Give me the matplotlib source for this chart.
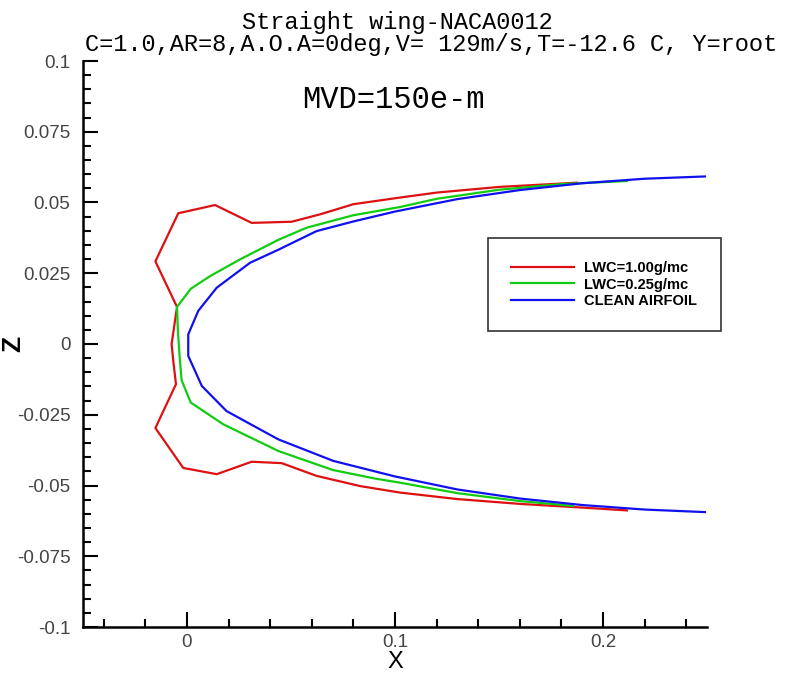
# 着氷形状の比較 (NACA0012 直線翼)
import matplotlib.pyplot as plt
from matplotlib.ticker import MultipleLocator, FuncFormatter

plt.rcParams['font.family'] = ['Liberation Sans', 'DejaVu Sans']
plt.rcParams['axes.unicode_minus'] = False

# LWC=1.00g/mc (赤)
x_lwc100 = [0.1875, 0.15, 0.12, 0.10, 0.08, 0.0639, 0.0503, 0.0311, 0.0135, -0.0042,
            -0.0152, -0.0048, -0.0062, -0.0074, -0.0066, -0.0053, -0.0152, -0.0018,
            0.0143, 0.0311, 0.0455, 0.0623, 0.0832, 0.1024, 0.13, 0.16, 0.19, 0.2115]
z_lwc100 = [0.0570, 0.0555, 0.0535, 0.0515, 0.0494, 0.0458, 0.0432, 0.0428, 0.0491, 0.0462,
            0.0292, 0.0131, 0.0060, 0.0000, -0.0060, -0.0142, -0.0297, -0.0438,
            -0.0460, -0.0416, -0.0421, -0.0466, -0.0502, -0.0525, -0.0548, -0.0565, -0.0578, -0.0588]

# LWC=0.25g/mc (緑)
x_lwc025 = [0.2115, 0.18, 0.15, 0.12, 0.1024, 0.08, 0.0575, 0.0439, 0.0255, 0.0111,
            0.0018, -0.0048, -0.0044, -0.0036, -0.0026, 0.0018, 0.0175, 0.0439,
            0.07, 0.09, 0.1024, 0.13, 0.16, 0.1856]
z_lwc025 = [0.0576, 0.0565, 0.0545, 0.0513, 0.0484, 0.0455, 0.0411, 0.0368, 0.0299, 0.0240,
            0.0195, 0.0131, 0.0050, -0.0040, -0.0128, -0.0207, -0.0284, -0.0378,
            -0.0445, -0.0475, -0.0490, -0.0527, -0.0555, -0.0572]

# CLEAN AIRFOIL (青)
x_clean = [0.249, 0.22, 0.19, 0.16, 0.13, 0.10, 0.08, 0.0623, 0.0439, 0.0303, 0.0143,
           0.0054, 0.0006, 0.0006, 0.0071, 0.019, 0.0439, 0.0703, 0.10, 0.13, 0.16,
           0.19, 0.22, 0.249]
z_clean = [0.0592, 0.0584, 0.0568, 0.0544, 0.0512, 0.0468, 0.0433, 0.0399, 0.0333, 0.0287, 0.0199,
           0.0117, 0.0034, -0.0042, -0.0148, -0.0237, -0.0337, -0.0413, -0.0468, -0.0514, -0.0546,
           -0.0569, -0.0585, -0.0594]

labels = ['LWC=1.00g/mc', 'LWC=0.25g/mc', 'CLEAN AIRFOIL']

fig = plt.figure(figsize=(7.95, 6.75), dpi=100)
ax = fig.add_axes([83 / 795, 48 / 675, 624 / 795, 566 / 675])

ax.plot(x_lwc100, z_lwc100, color='#dd1111', lw=1.6, label=labels[0])
ax.plot(x_lwc025, z_lwc025, color='#11cc11', lw=1.6, label=labels[1])
ax.plot(x_clean, z_clean, color='#1111ee', lw=1.6, label=labels[2])

ax.set_xlim(-0.05, 0.25)
ax.set_ylim(-0.1, 0.1)

# 枠は左と下だけ
ax.spines['top'].set_visible(False)
ax.spines['right'].set_visible(False)
for s in ['left', 'bottom']:
    ax.spines[s].set_linewidth(1.8)

ax.xaxis.set_major_locator(MultipleLocator(0.1))
ax.xaxis.set_minor_locator(MultipleLocator(0.02))
ax.yaxis.set_major_locator(MultipleLocator(0.025))
ax.yaxis.set_minor_locator(MultipleLocator(0.005))
fmt = FuncFormatter(lambda v, p: '%g' % round(v, 4))
ax.xaxis.set_major_formatter(fmt)
ax.yaxis.set_major_formatter(fmt)

ax.tick_params(which='both', direction='in', width=1.5, labelsize=13.5,
               labelcolor='#444444')
ax.tick_params(which='major', length=11, pad=9)
ax.tick_params(axis='x', which='major', pad=5)
ax.tick_params(which='minor', length=6)

ax.set_xlabel('X', fontsize=17)
ax.xaxis.set_label_coords(0.5, -0.043)
ax.set_ylabel('Z', fontsize=19, fontweight='bold')
ax.yaxis.set_label_coords(-0.093, 0.5)

leg = ax.legend(loc='upper left', bbox_to_anchor=(488 / 795, 1 - 238 / 675),
                bbox_transform=fig.transFigure, fancybox=False, framealpha=1,
                edgecolor='#333333', prop={'weight': 'bold', 'size': 10.5},
                borderpad=1.6, handlelength=4.3, handletextpad=0.7,
                labelspacing=0.15, borderaxespad=0)
leg.get_frame().set_linewidth(1.2)

mono = ['Liberation Mono', 'DejaVu Sans Mono']
fig.text(397 / 795, 1 - 22 / 675, 'Straight wing-NACA0012', family=mono,
         fontsize=17, ha='center', va='center')
fig.text(431 / 795, 1 - 45 / 675, 'C=1.0,AR=8,A.O.A=0deg,V= 129m/s,T=-12.6 C, Y=root',
         family=mono, fontsize=17, ha='center', va='center')
fig.text(393 / 795, 1 - 100 / 675, 'MVD=150e-m', family=mono, fontsize=22,
         ha='center', va='center')

plt.savefig('out.png')
